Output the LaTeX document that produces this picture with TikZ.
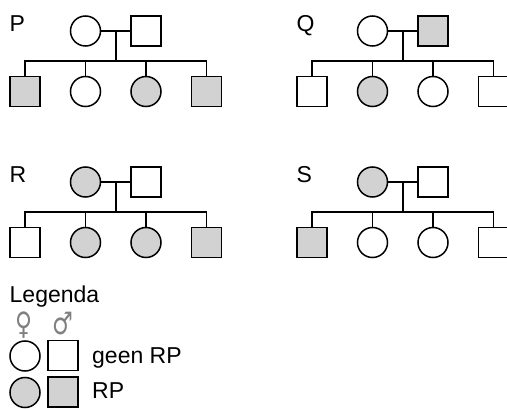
\documentclass[tikz,border=0pt]{standalone}
\usepackage{fontspec}
\setmainfont{Liberation Sans}
\newfontfamily\symfont{DejaVu Sans}
\usetikzlibrary{calc}
\definecolor{aff}{HTML}{D2D2D2}
\tikzset{
  ln/.style={line width=1.5pt, draw=black},
  fem/.style={ln, circle, minimum size=30pt, inner sep=0pt, fill=white},
  mal/.style={ln, rectangle, minimum size=30pt, inner sep=0pt, fill=white},
  af/.style={fill=aff},
  lbl/.style={inner sep=0pt, anchor=base west, font=\fontsize{23}{27}\selectfont},
  sym/.style={inner sep=0pt, text=black!50, xscale=0.75, font=\symfont\fontsize{31}{36}\selectfont},
}
\newcommand\pedigree[7]{%
  \node[lbl] (#1-l) at (9.5,31.5) {#1};
  \node[#2] (#1-m) at (85.5,31) {};
  \node[#3] (#1-f) at (146,31) {};
  \node[#4] (#1-c1) at (25,91.5) {};
  \node[#5] (#1-c2) at (85.5,91.5) {};
  \node[#6] (#1-c3) at (146,91.5) {};
  \node[#7] (#1-c4) at (206.5,91.5) {};
  \coordinate (#1-j) at ($(#1-m.east)!0.5!(#1-f.west)$);
  \coordinate (#1-s) at ($(#1-j)+(0,30)$);
  \draw[ln] (#1-m) -- (#1-f);
  \draw[ln] (#1-j) -- (#1-s);
  \draw[ln] (#1-c1.north) |- (#1-s) -| (#1-c4.north);
  \draw[ln] (#1-c2.north) -- (#1-c2.north |- #1-s);
  \draw[ln] (#1-c3.north) -- (#1-c3.north |- #1-s);
}
\begin{document}
\begin{tikzpicture}[x=1pt, y=-1pt]
\useasboundingbox (0,0) rectangle (507,409);
\begin{scope}
  \pedigree{P}{fem}{mal}{mal,af}{fem}{fem,af}{mal,af}
\end{scope}
\begin{scope}[shift={(287,0)}]
  \pedigree{Q}{fem}{mal,af}{mal}{fem,af}{fem}{mal}
\end{scope}
\begin{scope}[shift={(0,151)}]
  \pedigree{R}{fem,af}{mal}{mal}{fem,af}{fem,af}{mal,af}
\end{scope}
\begin{scope}[shift={(287,151)}]
  \pedigree{S}{fem,af}{mal}{mal,af}{fem}{fem}{mal}
\end{scope}
% legend
\node[lbl] (leg) at (9.5,302.5) {Legenda};
\node[sym] (vs) at (24,325) {♀};
\node[sym] (ms) at (62.5,324) {♂};
\node[fem] (l1) at (25,356) {};
\node[mal] (l2) at (63,355.5) {};
\node[fem,af] (l3) at (25,392.5) {};
\node[mal,af] (l4) at (63,392) {};
\node[lbl] (t1) at (92,363.5) {geen RP};
\node[lbl] (t2) at (92,398.5) {RP};
\end{tikzpicture}
\end{document}
